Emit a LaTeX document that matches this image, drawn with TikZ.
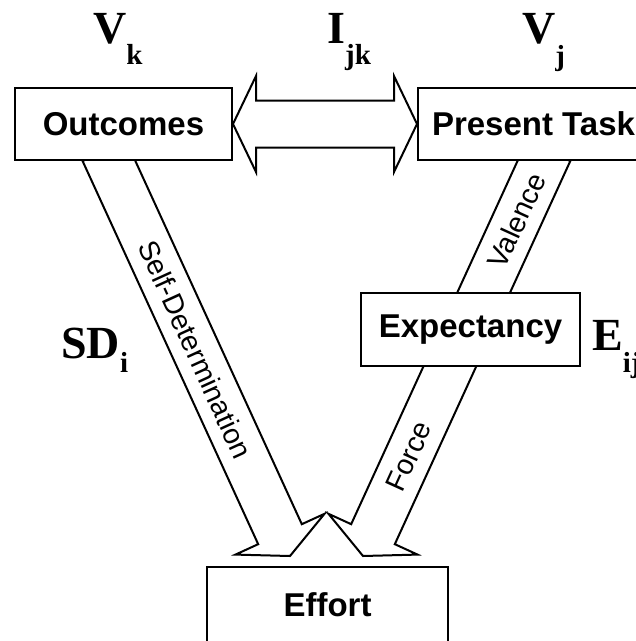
\documentclass[tikz,border=0pt]{standalone}
\usepackage{fontspec}
\setmainfont{Liberation Sans}
\newfontfamily\serifbold{Liberation Serif}
\usetikzlibrary{calc,backgrounds}

\newcommand\subsz{\fontsize{29}{29}\selectfont}

\tikzset{
  box/.style={draw, line width=2pt, fill=white, inner sep=0pt,
    font=\fontsize{33}{33}\selectfont\bfseries},
  blockarrow/.style={draw, line width=2pt, fill=white, line join=miter},
  arrowlabel/.style={inner sep=0pt, font=\fontsize{28.5}{28.5}\selectfont},
  symbol/.style={anchor=base west, inner sep=0pt,
    font=\serifbold\bfseries\fontsize{46}{46}\selectfont},
}

% block arrow: name, start, tip, shaft half-width, head half-width, head length
\newcommand\blockarr[6]{%
  \coordinate (#1-b) at ($(#3)!#6!(#2)$);
  \draw[blockarrow]
    ($(#2)!#4!90:(#3)$) -- ($(#1-b)!#4!90:(#3)$) -- ($(#1-b)!#5!90:(#3)$)
    -- (#3)
    -- ($(#1-b)!#5!-90:(#3)$) -- ($(#1-b)!#4!-90:(#3)$) -- ($(#2)!#4!-90:(#3)$)
    -- cycle;
}

\begin{document}
\begin{tikzpicture}[x=1pt,y=1pt]
  \useasboundingbox (0,-641) rectangle (636,0);
  \clip (0,-641) rectangle (636,0);

  % boxes
  \node[box, minimum width=217pt, minimum height=72pt] (outc) at (123.5,-124) {Outcomes};
  \node[box, minimum width=231pt, minimum height=72pt] (task) at (533.5,-124) {Present Task};
  \node[box, minimum width=219pt, minimum height=73pt] (expc) at (470.5,-329.5) {Expectancy};
  \node[box, minimum width=241pt, minimum height=76pt] (effort) at (327.5,-605) {Effort};

  % ends of the two converging arrows
  \coordinate (sdS) at ($(outc.south)+(-19.1,10)$);
  \coordinate (sdT) at ($(effort.north)+(-37.5,10)$);
  \coordinate (tkS) at ($(task.south)+(15,10)$);
  \coordinate (tkT) at ($(effort.north)+(35.5,10)$);

  \begin{pgfonlayer}{background}
    \blockarr{sd}{sdS}{sdT}{24pt}{49pt}{24pt}
    \blockarr{tk}{tkS}{tkT}{24pt}{49pt}{24pt}
    % two-headed arrow between outcomes and present task
    \coordinate (dA) at (outc.east);
    \coordinate (dB) at (task.west);
    \coordinate (dA-b) at ($(dA)!23pt!(dB)$);
    \coordinate (dB-b) at ($(dB)!23pt!(dA)$);
    \draw[blockarrow]
      (dA) -- ($(dA-b)!48pt!90:(dB)$) -- ($(dA-b)!23.5pt!90:(dB)$)
      -- ($(dB-b)!23.5pt!-90:(dA)$) -- ($(dB-b)!48pt!-90:(dA)$)
      -- (dB)
      -- ($(dB-b)!48pt!90:(dA)$) -- ($(dB-b)!23.5pt!90:(dA)$)
      -- ($(dA-b)!23.5pt!-90:(dB)$) -- ($(dA-b)!48pt!-90:(dB)$)
      -- cycle;
  \end{pgfonlayer}

  % arrow labels
  \node[arrowlabel, rotate=-65.5] (sdl) at ($(sdS)!0.49!(sdT)$) {Self-Determination};
  \node[arrowlabel, rotate=65.5] (vall) at ($(tkS)!0.172!(tkT)$) {Valence};
  \node[arrowlabel, rotate=65.5] (frcl) at ($(tkS)!0.754!(tkT)$) {Force};

  % symbols
  \node[symbol] (vk) at (93,-43) {V\raisebox{-21pt}{\subsz k}};
  \node[symbol] (ijk) at (327,-43) {I\raisebox{-21pt}{\subsz jk}};
  \node[symbol] (vj) at (522,-43) {V\raisebox{-22pt}{\subsz j}};
  \node[symbol] (sdi) at (61,-358) {SD\raisebox{-14pt}{\subsz i}};
  \node[symbol] (eij) at (592,-350) {E\raisebox{-22pt}{\subsz ij}};
\end{tikzpicture}
\end{document}
